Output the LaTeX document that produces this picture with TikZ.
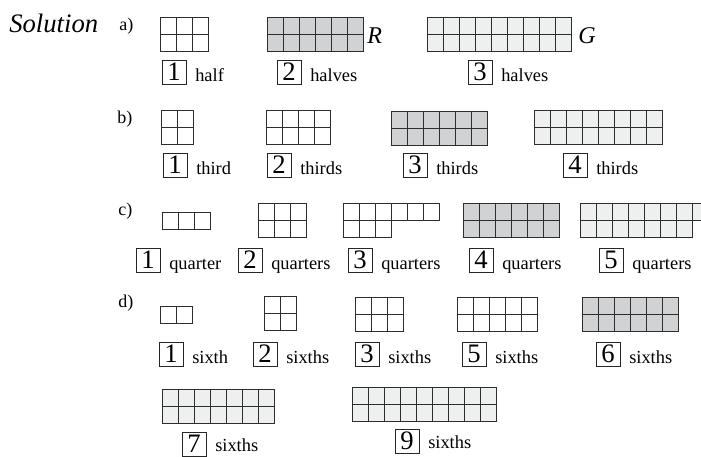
\documentclass[tikz,border=0pt]{standalone}
\usepackage{fontspec}
\setmainfont{Liberation Serif}
\definecolor{darkcell}{RGB}{209,210,212}
\definecolor{lightcell}{RGB}{238,240,240}
\definecolor{gridline}{RGB}{45,45,45}
\tikzset{
  cellstyle/.style={draw=gridline, line width=0.8pt},
  numbox/.style={draw=black!85, line width=0.7pt, minimum width=18pt, minimum height=18pt,
    inner sep=0pt, font=\fontsize{20}{20}\selectfont},
  wordlab/.style={inner sep=0pt, font=\fontsize{13.8}{16}\selectfont},
  partlab/.style={inner sep=0pt, font=\fontsize{13.5}{16}\selectfont},
  letterlab/.style={inner sep=0pt, font=\fontsize{18}{20}\selectfont\itshape},
}
\newcommand{\cw}{16}
\newcommand{\ch}{17}
% one row of n cells: x, ytop, n, fill, row index
\newcommand{\cellrow}[5]{%
  \fill[#4] ({#1+0.5},{#2+0.5+(#5)*\ch}) rectangle ({#1+0.5+#3*\cw},{#2+0.5+(#5+1)*\ch});
  \draw[cellstyle] ({#1+0.5},{#2+0.5+(#5)*\ch}) rectangle ({#1+0.5+#3*\cw},{#2+0.5+(#5+1)*\ch});
  \ifnum#3>1
  \foreach \k in {1,...,\numexpr#3-1\relax}{%
    \draw[cellstyle] ({#1+0.5+\k*\cw},{#2+0.5+(#5)*\ch}) -- ({#1+0.5+\k*\cw},{#2+0.5+(#5+1)*\ch});
  }\fi}
% full grid: x, ytop, cols, rows, fill
\newcommand{\cellgrid}[5]{%
  \foreach \r in {1,...,#4}{\cellrow{#1}{#2}{#3}{#5}{\r-1}}}
% label: name, box left, box top, digit, word
\newcommand{\numlabel}[5]{%
  \node[numbox] (#1) at ({#2+12},{#3+12}) {#4};
  \node[wordlab, anchor=base west] (#1w) at ({#2+33},{#3+21}) {#5};}
\begin{document}
\begin{tikzpicture}[x=0.75pt, y=-0.75pt]
\useasboundingbox (0,0) rectangle (701,457);
\node[inner sep=0pt, anchor=base west, font=\fontsize{20}{22}\selectfont\itshape] (sol) at (9,32) {Solution};
\node[partlab, anchor=base west] (pa) at (119,30) {a)};
\node[partlab, anchor=base west] (pb) at (117,123) {b)};
\node[partlab, anchor=base west] (pc) at (118,215) {c)};
\node[partlab, anchor=base west] (pd) at (118,307) {d)};
% row a
\cellgrid{160}{17}{3}{2}{white}
\cellgrid{267}{17}{6}{2}{darkcell}
\cellgrid{427}{17}{9}{2}{lightcell}
\node[letterlab, anchor=base west] (R) at (367,43) {R};
\node[letterlab, anchor=base west] (G) at (578,43) {G};
\numlabel{la1}{162}{60}{1}{half}
\numlabel{la2}{277}{60}{2}{halves}
\numlabel{la3}{468}{60}{3}{halves}
% row b
\cellgrid{161}{110}{2}{2}{white}
\cellgrid{266}{110}{4}{2}{white}
\cellgrid{391}{111}{6}{2}{darkcell}
\cellgrid{534}{110}{8}{2}{lightcell}
\numlabel{lb1}{163}{153}{1}{third}
\numlabel{lb2}{267}{153}{2}{thirds}
\numlabel{lb3}{403}{153}{3}{thirds}
\numlabel{lb4}{563}{153}{4}{thirds}
% row c
\cellgrid{162}{212}{3}{1}{white}
\cellgrid{258}{203}{3}{2}{white}
\cellrow{343}{203}{6}{white}{0}
\cellrow{343}{203}{3}{white}{1}
\cellgrid{463}{203}{6}{2}{darkcell}
\cellrow{580}{203}{8}{lightcell}{0}
\cellrow{580}{203}{7}{lightcell}{1}
\numlabel{lc1}{136}{248}{1}{quarter}
\numlabel{lc2}{238}{248}{2}{quarters}
\numlabel{lc3}{348}{248}{3}{quarters}
\numlabel{lc4}{469}{248}{4}{quarters}
\numlabel{lc5}{599}{248}{5}{quarters}
% row d
\cellgrid{160}{306}{2}{1}{white}
\cellgrid{264}{296}{2}{2}{white}
\cellgrid{355}{297}{3}{2}{white}
\cellgrid{457}{297}{5}{2}{white}
\cellgrid{582}{297}{6}{2}{darkcell}
\numlabel{ld1}{159}{342}{1}{sixth}
\numlabel{ld2}{253}{342}{2}{sixths}
\numlabel{ld3}{355}{342}{3}{sixths}
\numlabel{ld5}{462}{342}{5}{sixths}
\numlabel{ld6}{596}{342}{6}{sixths}
% row e
\cellgrid{162}{389}{7}{2}{lightcell}
\cellgrid{352}{387}{9}{2}{lightcell}
\node[numbox] (le7) at (194,444) {7};
\node[wordlab, anchor=base west] (le7w) at (215,451) {sixths};
\node[numbox] (le9) at (407,441) {9};
\node[wordlab, anchor=base west] (le9w) at (428,448) {sixths};
\end{tikzpicture}
\end{document}
